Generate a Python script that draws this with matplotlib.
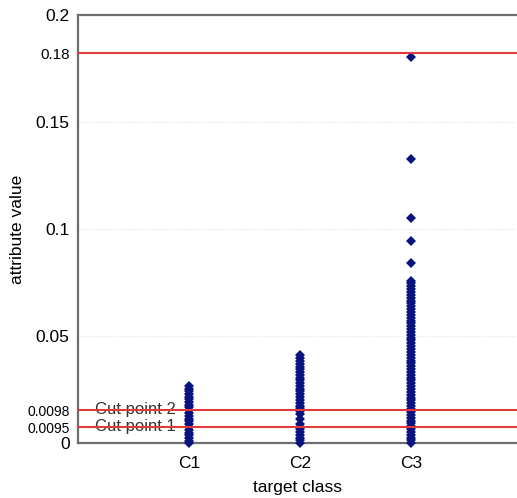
import matplotlib
matplotlib.use("Agg")
import matplotlib.pyplot as plt

plt.rcParams['font.family'] = ['Liberation Sans', 'DejaVu Sans']

# class positions and labels
classes = ["C1", "C2", "C3"]
class_pos = [1, 2, 3]

# attribute values per class
c1_vals = [0.0, 0.0012, 0.0025, 0.0038, 0.005, 0.0063, 0.0076, 0.009, 0.0102,
           0.0115, 0.0128, 0.014, 0.0153, 0.0167, 0.018, 0.0192, 0.0205,
           0.0218, 0.023, 0.0243, 0.0255, 0.0266]
c2_vals = [0.0, 0.0013, 0.0026, 0.004, 0.0053, 0.0066, 0.0078, 0.0092,
           0.0112, 0.0138, 0.015, 0.0163, 0.0176, 0.019, 0.0203, 0.0216, 0.0229,
           0.0242, 0.0255, 0.0268, 0.028, 0.0293, 0.0306, 0.032, 0.0333,
           0.0346, 0.0358, 0.0371, 0.0384, 0.0397, 0.041]
c3_vals = [0.0, 0.0013, 0.0026, 0.004, 0.0053, 0.0066, 0.008, 0.0093, 0.0106,
           0.012, 0.0133, 0.0146, 0.016, 0.0173, 0.0186, 0.02, 0.0213, 0.0226,
           0.024, 0.0253, 0.0266, 0.028, 0.0293, 0.0306, 0.032, 0.0333, 0.0346,
           0.036, 0.0373, 0.0386, 0.04, 0.0413, 0.0426, 0.044, 0.0453, 0.0466,
           0.048, 0.0493, 0.0506, 0.052, 0.0533, 0.0546, 0.056, 0.0573, 0.0586,
           0.06, 0.0613, 0.0626, 0.064, 0.0653, 0.0666, 0.068, 0.0693, 0.0706,
           0.072, 0.0733, 0.0746, 0.0758, 0.0843, 0.0944, 0.1053, 0.1329, 0.1802]

# horizontal reference lines (drawn spread out, labelled with the real values)
cut_lines = [0.0075, 0.0154, 0.182]
cut_texts = ["Cut point 1", "Cut point 2", None]

y_ticks = [0, 0.0075, 0.0154, 0.05, 0.1, 0.15, 0.182, 0.2]
y_labels = ["0", "0.0095", "0.0098", "0.05", "0.1", "0.15", "0.18", "0.2"]
y_label_sizes = [12.5, 10, 10, 12.5, 12.5, 12.5, 11, 12.5]

fig = plt.figure(figsize=(5.17, 4.98), dpi=100)
ax = fig.add_axes([0.151, 0.110, 0.849, 0.860])

for pos, vals in zip(class_pos, [c1_vals, c2_vals, c3_vals]):
    ax.plot([pos] * len(vals), vals, 'D', color='#0a1480', ms=4.6, mew=0,
            clip_on=False, zorder=3)

for yv, txt in zip(cut_lines, cut_texts):
    ax.axhline(yv, color='#e03a3a', lw=1.5, zorder=4)
    if txt:
        ax.text(0.15, yv + 0.0004, txt, fontsize=12, color='#333333',
                va='center', ha='left', zorder=2)

for g in [0.05, 0.1, 0.15]:
    ax.axhline(g, color='#dddddd', lw=0.8, ls=':', zorder=0)

ax.set_xlim(0, 3.955)
ax.set_ylim(0, 0.2)
ax.set_xticks(class_pos)
ax.set_xticklabels(classes, fontsize=12.5)
ax.set_yticks(y_ticks)
ax.set_yticklabels(y_labels)
for lab, s in zip(ax.get_yticklabels(), y_label_sizes):
    lab.set_fontsize(s)
ax.tick_params(length=0, pad=6)
ax.tick_params(axis='x', pad=9)

for side in ['left', 'bottom', 'top']:
    ax.spines[side].set_color('#6e6e6e')
    ax.spines[side].set_linewidth(1.6)
ax.spines['right'].set_visible(False)

ax.set_xlabel("target class", fontsize=12.5, labelpad=7)
ax.set_ylabel("attribute value", fontsize=12.5, labelpad=2)

fig.savefig("out.png", dpi=100)
